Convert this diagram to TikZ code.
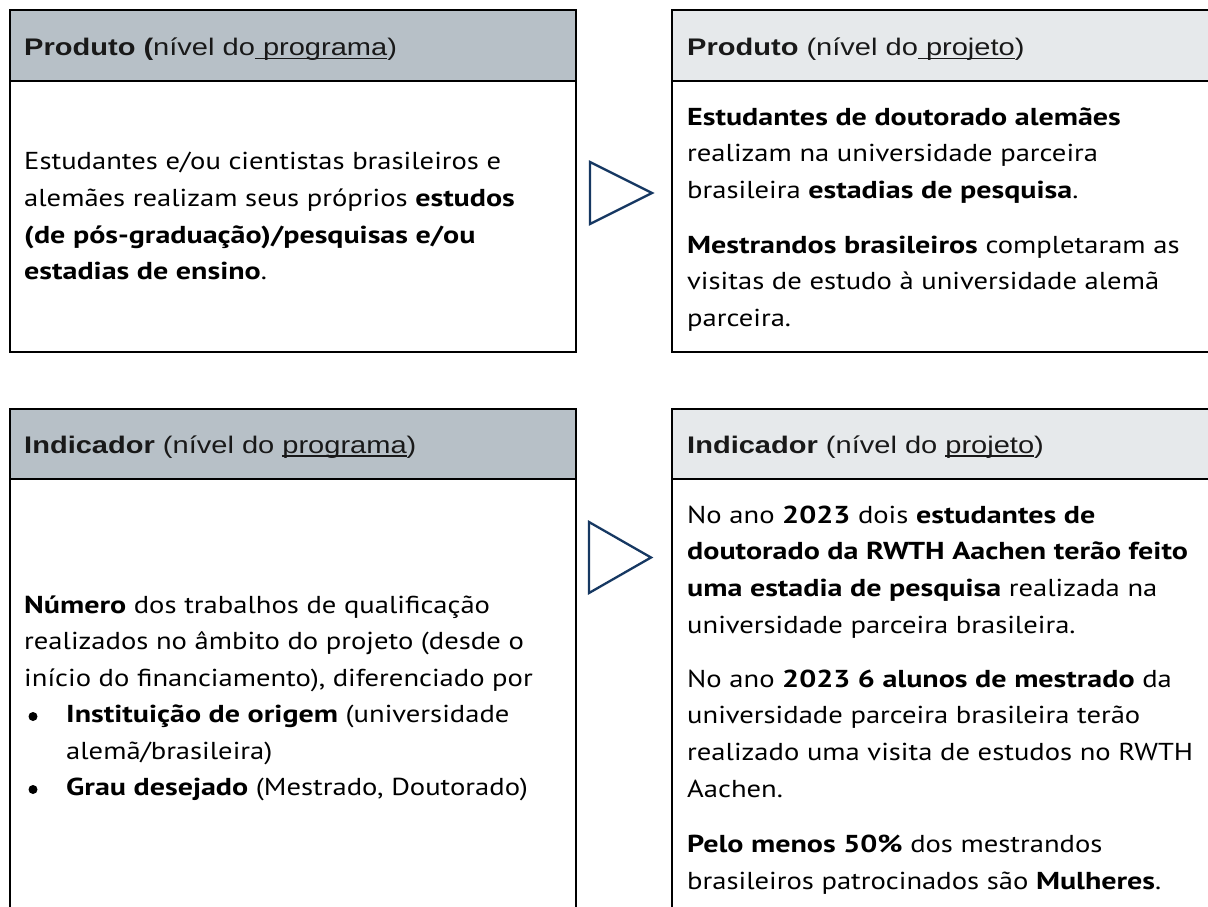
\documentclass[tikz,border=0pt]{standalone}
\usepackage{fontspec}
\usepackage{graphicx}
\setmainfont{PT Sans}[BoldFeatures={FakeStretch=1.05}]
\newfontfamily\hfont{Liberation Sans}
\definecolor{hdrL}{RGB}{183,192,199}
\definecolor{hdrR}{RGB}{230,233,235}
\definecolor{arrc}{RGB}{22,56,98}
\newcommand\hul[1]{\setbox0\hbox{#1}\rlap{\rule[-3.5pt]{\wd0}{1.4pt}}\box0}
\newcommand\bsx[1]{\scalebox{\bfac}[1]{#1}}
\newcommand\hsx[1]{\scalebox{1.21}[1]{#1}}
\newcommand\bodyfont{\fontsize{24.5}{30}\selectfont}
\newsavebox\measbox
\AtBeginDocument{%
  \sbox\measbox{\bodyfont Estudantes e/ou cientistas brasileiros e}%
  \edef\tmpw{\the\wd\measbox}%
  \pgfmathsetmacro\bfac{477/\tmpw}%
  \xdef\bfac{\bfac}%
}
\tikzset{
  box/.style={draw=black, line width=2pt},
  hdr/.style={anchor=base west, inner sep=0pt, font=\hfont\fontsize{24}{28}\selectfont, text=black!90},
  txt/.style={anchor=base west, inner sep=0pt, font=\bodyfont, text=black},
  bul/.style={circle, fill=black, inner sep=0pt, minimum size=9pt},
  arr/.style={draw=arrc, line width=2.3pt, line join=miter},
}
\begin{document}
\begin{tikzpicture}[x=1pt, y=-1pt]
\useasboundingbox (0,0) rectangle (1208,907);
% top-left box
\fill[hdrL] (10,10) rectangle (576,80.7);
\draw[box] (10,10) rectangle (576,351.5);
\draw[box] (10,80.7) -- (576,80.7);
% top-right box
\fill[hdrR] (672,10) rectangle (1220,80.7);
\draw[box] (1220,10) -- (672,10) -- (672,351.5) -- (1220,351.5);
\draw[box] (672,80.7) -- (1220,80.7);
% bottom-left box
\fill[hdrL] (10,409) rectangle (576,479);
\draw[box] (10,920) -- (10,409) -- (576,409) -- (576,920);
\draw[box] (10,479) -- (576,479);
% bottom-right box
\fill[hdrR] (672,409) rectangle (1220,479);
\draw[box] (672,920) -- (672,409) -- (1220,409);
\draw[box] (672,479) -- (1220,479);
% arrows
\draw[arr] (590,162) -- (652,193) -- (590,224) -- cycle;
\draw[arr] (589,522) -- (651,557.5) -- (589,593) -- cycle;
% headers
\node[hdr] (h1) at (24,56) {\hsx{\textbf{Produto (}nível do\hul{ programa})}};
\node[hdr] (h2) at (687,56) {\hsx{\textbf{Produto} (nível do\hul{ projeto})}};
\node[hdr] (h3) at (24,453) {\hsx{\textbf{Indicador} (nível do \hul{programa})}};
\node[hdr] (h4) at (687,453) {\hsx{\textbf{Indicador} (nível do \hul{projeto})}};
% top-left body
\node[txt] (a1) at (24,169.5) {\bsx{Estudantes e/ou cientistas brasileiros e}};
\node[txt] (a2) at (24,206.3) {\bsx{alemães realizam seus próprios \textbf{estudos}}};
\node[txt] (a3) at (24,243.1) {\bsx{\textbf{(de pós-graduação)/pesquisas e/ou}}};
\node[txt] (a4) at (24,279.9) {\bsx{\textbf{estadias de ensino}.}};
% top-right body
\node[txt] (b1) at (687,125) {\bsx{\textbf{Estudantes de doutorado alemães}}};
\node[txt] (b2) at (687,161.8) {\bsx{realizam na universidade parceira}};
\node[txt] (b3) at (687,198.6) {\bsx{brasileira \textbf{estadias de pesquisa}.}};
\node[txt] (b4) at (687,253) {\bsx{\textbf{Mestrandos brasileiros} completaram as}};
\node[txt] (b5) at (687,289.8) {\bsx{visitas de estudo à universidade alemã}};
\node[txt] (b6) at (687,326.6) {\bsx{parceira.}};
% bottom-left body
\node[txt] (c1) at (24,613) {\bsx{\textbf{Número} dos trabalhos de qualificação}};
\node[txt] (c2) at (24,649.5) {\bsx{realizados no âmbito do projeto (desde o}};
\node[txt] (c3) at (24,686) {\bsx{início do financiamento), diferenciado por}};
\node[bul] (c4b) at (33,716.5) {};
\node[txt] (c4) at (66,722.5) {\bsx{\textbf{Instituição de origem} (universidade}};
\node[txt] (c5) at (66,759) {\bsx{alemã/brasileira)}};
\node[bul] (c6b) at (33,789.5) {};
\node[txt] (c6) at (66,795.5) {\bsx{\textbf{Grau desejado} (Mestrado, Doutorado)}};
% bottom-right body
\node[txt] (d1) at (687,523) {\bsx{No ano \textbf{2023} dois \textbf{estudantes de}}};
\node[txt] (d2) at (687,559.8) {\bsx{\textbf{doutorado da RWTH Aachen terão feito}}};
\node[txt] (d3) at (687,596.6) {\bsx{\textbf{uma estadia de pesquisa} realizada na}};
\node[txt] (d4) at (687,633.4) {\bsx{universidade parceira brasileira.}};
\node[txt] (d5) at (687,687) {\bsx{No ano \textbf{2023 6 alunos de mestrado} da}};
\node[txt] (d6) at (687,723.8) {\bsx{universidade parceira brasileira terão}};
\node[txt] (d7) at (687,760.6) {\bsx{realizado uma visita de estudos no RWTH}};
\node[txt] (d8) at (687,797.4) {\bsx{Aachen.}};
\node[txt] (d9) at (687,852.5) {\bsx{\textbf{Pelo menos 50\%} dos mestrandos}};
\node[txt] (d10) at (687,889) {\bsx{brasileiros patrocinados são \textbf{Mulheres}.}};
\end{tikzpicture}
\end{document}
